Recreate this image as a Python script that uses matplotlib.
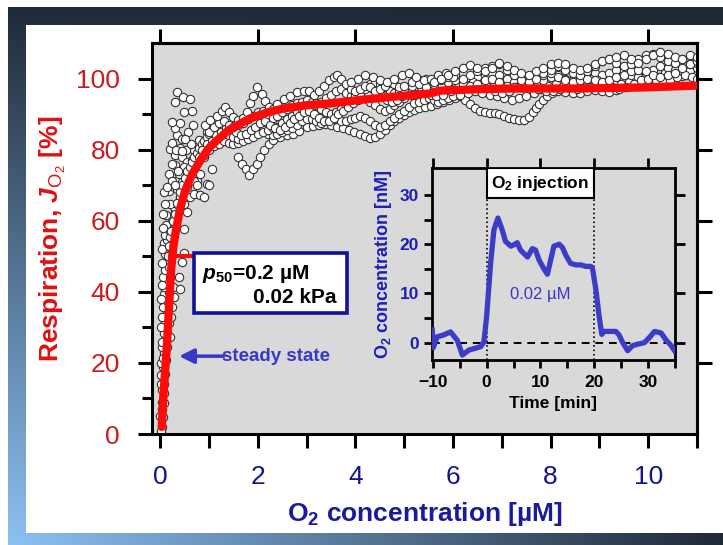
import numpy as np
import matplotlib
matplotlib.use('Agg')
import matplotlib.pyplot as plt
from matplotlib.patches import Rectangle

plt.rcParams['font.family'] = ['Liberation Sans', 'DejaVu Sans']
plt.rcParams['mathtext.fontset'] = 'custom'
plt.rcParams['mathtext.rm'] = 'Liberation Sans'
plt.rcParams['mathtext.it'] = 'Liberation Sans:italic'
plt.rcParams['mathtext.bf'] = 'Liberation Sans:bold'
plt.rcParams['mathtext.bfit'] = 'Liberation Sans:italic:bold'
plt.rcParams['mathtext.sf'] = 'Liberation Sans'

# ---------------- data ----------------
near_zero = [(0.034, 2.1), (0.055, 4.9), (0.068, 8.6), (0.082, 11.4), (0.068, 14.2), (0.102, 17.0),
             (0.055, 18.9), (0.123, 20.8), (0.082, 22.7), (0.137, 24.5), (0.102, 26.4), (0.068, 28.3),
             (0.15, 27.8), (0.205, 27.3), (0.123, 30.1), (0.17, 31.1), (0.082, 33.0), (0.219, 33.0),
             (0.137, 34.8), (0.055, 35.8), (0.239, 35.8), (0.123, 37.6), (0.273, 38.6), (0.068, 39.5),
             (0.17, 40.0), (0.082, 41.4), (0.26, 41.4), (0.41, 40.9), (0.137, 43.3), (0.055, 44.2),
             (0.205, 44.2), (0.375, 44.2), (0.102, 46.1), (0.17, 47.0), (0.444, 48.4), (0.478, 50.8),
             (0.068, 53.6), (0.137, 54.5), (0.102, 55.9), (0.205, 55.5), (0.17, 57.3), (0.123, 58.7),
             (0.239, 60.7), (0.307, 62.5), (0.273, 63.9), (0.34, 64.8), (0.205, 64.8), (0.478, 57.8),
             (0.546, 62.5), (0.478, 64.8), (0.41, 66.7), (0.615, 66.7), (0.683, 67.6), (0.82, 67.1),
             (0.888, 66.7), (0.102, 64.8), (0.17, 68.5), (0.273, 69.5), (0.41, 70.4), (0.34, 71.3),
             (0.478, 72.3), (0.615, 73.2), (0.75, 71.3), (0.956, 70.4), (0.02, 0.8), (0.04, 7.0),
             (0.03, 12.5), (0.05, 16.0), (0.045, 24.5), (0.09, 31.5), (0.04, 48.0), (0.09, 50.5),
             (0.06, 58.0), (0.11, 61.5), (0.00, 5.0), (0.02, 14.0), (0.01, 20.0), (0.03, 26.0),
             (0.04, 33.0), (0.02, 38.0), (0.03, 42.0), (0.045, 52.0), (0.06, 62.0), (0.08, 68.0),
             (0.01, 30.0), (0.025, 9.0), (0.015, 16.5), (0.05, 21.5)]
low_cluster = [(0.205, 80.2), (0.307, 78.4), (0.444, 77.9), (0.546, 76.5), (0.307, 75.6), (0.478, 75.1),
               (0.171, 73.2), (0.376, 73.2), (0.58, 73.7), (0.239, 71.3), (0.444, 70.9), (0.683, 71.3),
               (0.137, 69.5), (0.342, 69.0), (0.546, 69.5), (0.75, 70.0), (0.99, 70.0), (1.06, 74.6),
               (0.82, 73.2), (0.888, 77.9), (0.683, 79.8), (0.785, 82.6), (0.956, 84.9), (0.92, 82.6),
               (0.25, 82.0), (0.35, 84.0), (0.30, 86.0), (0.40, 80.5), (0.52, 80.0), (0.56, 85.0),
               (0.62, 81.5), (0.66, 77.0), (0.72, 75.5), (0.76, 78.5), (0.86, 80.5), (0.40, 87.5)]
along_fit = [(0.15, 50.0), (0.18, 53.0), (0.22, 57.0), (0.26, 60.0), (0.30, 62.0), (0.35, 65.0),
             (0.40, 68.0), (0.45, 70.0), (0.50, 72.0), (0.55, 74.0), (0.60, 75.0), (0.65, 76.5),
             (0.70, 78.0), (0.75, 79.0), (0.80, 80.5), (0.85, 81.5), (0.90, 82.5), (0.95, 83.5),
             (1.00, 84.5), (0.30, 70.0), (0.36, 74.0), (0.25, 76.0), (0.33, 80.0), (0.45, 79.5)]
outliers = [(0.34, 96.2), (0.31, 93.3), (0.47, 94.8), (0.61, 94.3), (0.48, 90.5), (0.65, 91.0),
            (0.24, 87.7), (0.68, 86.8), (0.44, 83.0), (0.51, 83.0)]
trace_a = [(0.92, 86.8), (1.02, 88.2), (1.16, 89.6), (1.26, 91.0), (1.33, 92.0), (1.40, 90.5), (1.50, 89.1),
           (1.60, 88.2), (1.70, 89.0), (1.78, 90.5), (1.84, 93.0), (1.90, 95.2), (1.98, 97.5), (2.08, 95.7),
           (2.15, 93.8), (2.22, 91.9), (2.30, 91.5), (2.40, 92.8), (2.53, 94.3), (2.66, 95.2), (2.80, 96.2),
           (2.94, 96.6), (3.05, 96.5), (3.15, 95.5), (3.25, 96.5), (3.35, 98.0), (3.45, 99.5), (3.55, 100.5),
           (3.62, 101.0), (3.70, 100.0), (3.80, 98.5), (3.90, 97.0), (4.00, 96.5), (4.10, 97.0), (4.20, 98.0),
           (4.30, 97.5), (4.40, 96.5), (4.50, 97.0), (4.60, 98.0), (4.70, 99.0), (4.80, 98.5), (4.90, 97.5),
           (5.00, 98.0), (5.15, 99.0), (5.30, 98.5), (5.45, 97.5), (5.60, 98.5), (5.75, 99.5), (5.90, 100.5),
           (6.05, 101.0), (6.20, 100.0), (6.35, 101.0), (6.50, 102.0), (6.65, 103.0), (6.80, 103.5),
           (6.95, 104.0), (7.10, 102.5), (7.25, 101.0), (7.40, 99.5), (7.55, 99.0), (7.70, 100.0),
           (7.85, 101.5), (8.00, 102.5), (8.15, 103.5), (8.30, 102.5), (8.45, 101.5), (8.60, 101.0),
           (8.75, 102.0), (8.90, 103.5), (9.05, 105.0), (9.20, 105.5), (9.35, 104.5), (9.50, 103.5),
           (9.65, 104.0), (9.80, 105.5), (9.95, 106.5), (10.10, 107.0), (10.25, 106.0), (10.40, 105.0),
           (10.55, 104.5), (10.70, 105.5), (10.85, 104.0), (11.00, 105.0)]
trace_b = [(0.85, 80.0), (0.95, 81.5), (1.05, 82.5), (1.15, 84.0), (1.25, 85.0), (1.35, 86.0), (1.45, 86.0),
           (1.55, 85.0), (1.65, 84.0), (1.75, 84.5), (1.85, 85.5), (1.95, 86.5), (2.05, 87.5), (2.15, 88.0),
           (2.25, 87.0), (2.35, 86.0), (2.45, 85.5), (2.55, 86.5), (2.65, 87.5), (2.75, 88.5), (2.85, 89.5),
           (2.95, 90.5), (3.05, 91.0), (3.15, 90.0), (3.25, 89.0), (3.35, 88.0), (3.45, 88.0), (3.55, 89.0),
           (3.65, 90.0), (3.75, 91.0), (3.85, 92.0), (3.95, 93.0), (4.05, 94.0), (4.15, 95.0), (4.25, 96.0),
           (4.35, 97.0), (4.45, 96.0), (4.55, 95.0), (4.65, 94.0), (4.75, 93.5), (4.85, 94.0), (4.95, 95.0),
           (5.05, 96.0), (5.15, 97.0), (5.25, 98.0), (5.35, 97.5), (5.45, 96.5), (5.55, 95.5), (5.65, 95.0),
           (5.80, 95.5), (5.95, 96.5), (6.10, 97.5), (6.25, 98.5), (6.40, 99.0), (6.55, 98.5), (6.70, 97.5),
           (6.85, 96.5), (7.00, 96.0), (7.15, 96.5), (7.30, 97.5), (7.45, 98.0), (7.60, 97.5), (7.75, 97.0),
           (7.90, 96.5), (8.05, 96.5), (8.20, 97.0), (8.35, 97.5), (8.50, 98.5), (8.65, 99.5), (8.80, 100.0),
           (8.95, 99.5), (9.10, 98.5), (9.25, 97.5), (9.40, 97.0), (9.55, 97.5), (9.70, 98.5), (9.85, 99.5),
           (10.00, 100.0), (10.15, 99.5), (10.30, 99.0), (10.45, 99.5), (10.60, 100.5), (10.75, 101.0),
           (10.90, 100.5), (11.00, 100.0)]
trace_c = [(1.60, 78.0), (1.68, 76.0), (1.75, 74.5), (1.82, 73.0), (1.90, 74.5), (1.98, 76.0), (2.05, 78.0),
           (2.12, 80.0), (2.22, 81.6), (2.32, 82.6), (2.46, 83.5), (2.60, 84.0), (2.72, 84.5), (2.85, 85.2),
           (3.00, 86.3), (3.12, 86.6), (3.25, 87.0), (3.38, 87.2), (3.50, 87.0), (3.62, 86.5), (3.74, 86.0),
           (3.86, 85.5), (3.98, 85.0), (4.10, 84.3), (4.20, 83.7), (4.30, 83.4), (4.40, 83.6), (4.50, 84.4),
           (4.60, 85.5), (4.70, 86.8), (4.80, 88.0), (4.90, 89.0), (5.00, 89.8), (5.10, 90.6), (5.20, 91.2),
           (5.30, 91.6), (5.42, 92.0), (5.55, 92.3), (5.68, 92.8), (5.80, 93.4), (5.92, 94.0), (6.04, 94.6),
           (6.15, 95.1), (6.25, 94.0), (6.35, 92.8), (6.45, 91.6), (6.55, 91.0), (6.65, 90.6), (6.75, 90.4),
           (6.85, 90.2), (6.95, 90.0), (7.05, 89.5), (7.15, 89.0), (7.25, 88.6), (7.35, 88.2), (7.45, 88.4),
           (7.55, 89.2), (7.63, 90.5), (7.70, 91.6), (7.77, 92.8), (7.85, 94.0), (7.92, 95.0), (8.02, 96.0),
           (8.15, 96.6), (8.30, 96.2), (8.45, 95.8), (8.60, 96.0), (8.75, 96.5), (8.90, 96.8), (9.05, 96.4),
           (9.20, 96.2), (9.35, 96.8), (9.50, 97.5), (9.65, 98.0), (9.80, 98.5), (9.95, 98.8), (10.10, 98.2),
           (10.25, 98.6), (10.40, 99.4), (10.55, 100.0), (10.70, 100.8), (10.85, 101.5), (11.00, 101.8)]
trace_d = [(0.80, 78.0), (0.90, 80.0), (1.00, 81.5), (1.10, 83.0), (1.20, 84.0), (1.30, 84.5), (1.40, 84.0),
           (1.50, 83.5), (1.60, 83.0), (1.70, 82.5), (1.80, 83.0), (1.90, 83.5), (2.00, 84.5), (2.10, 85.0),
           (2.20, 85.5), (2.30, 86.0), (2.40, 86.5), (2.50, 87.5), (2.60, 88.5), (2.70, 89.5), (2.80, 90.5),
           (2.90, 91.5), (3.00, 92.5), (3.10, 93.0), (3.20, 92.5), (3.30, 91.5), (3.40, 90.5), (3.50, 90.0),
           (3.60, 90.5), (3.70, 91.5), (3.80, 92.5), (3.90, 93.5), (4.00, 94.5), (4.10, 95.0), (4.20, 94.5),
           (4.30, 93.5), (4.40, 92.5), (4.50, 91.5), (4.60, 91.0), (4.70, 91.5), (4.80, 92.5), (4.90, 93.5),
           (5.00, 94.5), (5.15, 95.5), (5.30, 96.5), (5.45, 97.5), (5.60, 98.0), (5.75, 97.5), (5.90, 98.0),
           (6.05, 99.0), (6.20, 99.5), (6.35, 100.0), (6.50, 100.5), (6.65, 101.0), (6.80, 101.5),
           (6.95, 101.0), (7.10, 100.0), (7.25, 99.0), (7.40, 98.5), (7.55, 98.0), (7.70, 98.5), (7.85, 99.5),
           (8.00, 100.5), (8.15, 101.0), (8.30, 100.0), (8.45, 99.5), (8.60, 100.0), (8.75, 101.0),
           (8.90, 101.5), (9.05, 101.0), (9.20, 101.5), (9.35, 102.5), (9.50, 102.0), (9.65, 101.0),
           (9.80, 100.5), (9.95, 101.5), (10.10, 102.5), (10.25, 103.5), (10.40, 103.0), (10.55, 102.5),
           (10.70, 102.0), (10.85, 102.5), (11.00, 103.0)]
trace_e = [(5.60, 99.0), (5.75, 100.0), (5.90, 101.0), (6.05, 102.0), (6.20, 103.0), (6.35, 103.8),
           (6.50, 103.0), (6.65, 102.0), (6.80, 103.0), (6.95, 104.5), (7.10, 103.5), (7.25, 102.5),
           (7.40, 101.5), (7.55, 101.0), (7.70, 102.0), (7.85, 103.0), (8.00, 104.0), (8.15, 104.5),
           (8.30, 104.0), (8.45, 103.0), (8.60, 102.5), (8.75, 103.0), (8.90, 104.0), (9.05, 105.0),
           (9.20, 105.5), (9.35, 106.0), (9.50, 106.5), (9.65, 105.5), (9.80, 104.5), (9.95, 105.5),
           (10.10, 106.5), (10.25, 107.4), (10.40, 107.0), (10.55, 106.0), (10.70, 105.5), (10.85, 106.5),
           (11.00, 106.0)]
trace_f = [(3.90, 99.0), (4.05, 100.0), (4.20, 101.0), (4.35, 100.5), (4.50, 99.5), (4.65, 99.0),
           (4.80, 100.0), (4.95, 101.0), (5.10, 101.5), (5.25, 100.5), (5.40, 99.5), (5.55, 100.0),
           (5.70, 101.0), (5.85, 101.5), (6.00, 100.5)]
trace_g = [(1.0, 85.0), (1.1, 86.5), (1.2, 87.5), (1.3, 88.0), (1.4, 87.0), (1.5, 86.5), (1.6, 87.0),
           (1.7, 87.5), (1.8, 88.5), (1.9, 89.5), (2.0, 90.5), (2.1, 91.0), (2.2, 90.0), (2.3, 89.0),
           (2.4, 89.5), (2.5, 90.5), (2.6, 91.5), (2.7, 92.5), (2.8, 93.0), (2.9, 93.5), (3.0, 94.0),
           (3.1, 93.5), (3.2, 93.0), (3.3, 93.5), (3.4, 94.5), (3.5, 95.5), (3.6, 96.5), (3.7, 97.0),
           (3.8, 96.0), (3.9, 95.0), (4.0, 95.5), (4.1, 96.0), (4.2, 97.0), (4.3, 98.5), (4.4, 99.0),
           (4.5, 98.5), (4.6, 97.5), (4.7, 96.5), (4.8, 96.0), (4.9, 96.5), (5.0, 97.0), (5.15, 98.0),
           (5.3, 99.5), (5.45, 100.0), (5.6, 99.0), (5.75, 98.5), (5.9, 99.0), (6.05, 99.5), (6.2, 98.5),
           (6.35, 98.0), (6.5, 98.5), (6.65, 99.5), (6.8, 100.0), (6.95, 99.0), (7.1, 98.0), (7.25, 97.5),
           (7.4, 98.0), (7.55, 99.5), (7.7, 100.5), (7.85, 101.0), (8.0, 101.5), (8.15, 100.5), (8.3, 99.5),
           (8.45, 99.0), (8.6, 99.5), (8.75, 100.0), (8.9, 99.5), (9.05, 99.0), (9.2, 99.5), (9.35, 100.5),
           (9.5, 101.0), (9.65, 102.0), (9.8, 102.5), (9.95, 102.0), (10.1, 101.0), (10.25, 100.5),
           (10.4, 101.0), (10.55, 101.5), (10.7, 103.0), (10.85, 104.0), (11.0, 104.5)]
trace_h = [(0.9, 78.5), (1.0, 80.0), (1.1, 81.0), (1.2, 81.5), (1.3, 82.5), (1.4, 82.0), (1.5, 81.5),
           (1.6, 82.0), (1.7, 83.0), (1.8, 84.0), (1.9, 84.5), (2.0, 85.0), (2.1, 85.5), (2.2, 84.5),
           (2.3, 84.0), (2.4, 84.5), (2.5, 85.0), (2.6, 85.5), (2.7, 86.0), (2.8, 87.0), (2.9, 88.0),
           (3.0, 88.5), (3.1, 88.5), (3.2, 88.0), (3.3, 87.5), (3.4, 88.5), (3.5, 89.0), (3.6, 88.5),
           (3.7, 88.0), (3.8, 88.0), (3.9, 88.5), (4.0, 89.0), (4.1, 89.5), (4.2, 89.0), (4.3, 88.0),
           (4.4, 87.0), (4.5, 86.5), (4.6, 87.0), (4.7, 88.0), (4.8, 89.0), (4.9, 90.0), (5.0, 91.0),
           (5.1, 92.0), (5.2, 93.0), (5.3, 93.5), (5.4, 94.0), (5.5, 94.5), (5.6, 94.0), (5.7, 93.5),
           (5.8, 94.0), (5.9, 94.5), (6.0, 95.0), (6.15, 95.5), (6.3, 96.0), (6.45, 96.5), (6.6, 96.0),
           (6.75, 95.5), (6.9, 95.0), (7.05, 94.5), (7.2, 94.0), (7.35, 94.5), (7.5, 95.0), (7.65, 96.0),
           (7.8, 97.0), (7.95, 98.0), (8.1, 98.5), (8.25, 98.0), (8.4, 97.5), (8.55, 97.0), (8.7, 97.5),
           (8.85, 98.0), (9.0, 98.5), (9.15, 99.0), (9.3, 99.0), (9.45, 98.5), (9.6, 99.0), (9.75, 100.0),
           (9.9, 100.5), (10.05, 100.0), (10.2, 100.5), (10.35, 101.5), (10.5, 102.0), (10.65, 101.5),
           (10.8, 101.0), (10.95, 101.5)]

fit_x = [0.03, 0.06, 0.10, 0.14, 0.18, 0.22, 0.27, 0.33, 0.40, 0.51, 0.65, 0.82, 1.00, 1.16, 1.40,
         1.84, 2.20, 2.53, 3.00, 3.48, 4.10, 4.71, 5.53, 5.74, 6.50, 7.17, 8.54, 9.90, 10.96]
fit_y = [2.0, 10.0, 18.0, 26.0, 36.0, 46.0, 53.0, 58.0, 63.0, 68.5, 73.0, 77.0, 80.5, 82.6, 85.5,
         88.8, 90.5, 91.6, 92.5, 93.0, 94.0, 94.8, 95.8, 96.6, 97.0, 97.2, 97.2, 97.5, 98.0]

inset_t = [-10.1, -9.9, -9.2, -7.95, -6.7, -5.45, -4.5, -3.3, -2.36, -1.1, -0.5, 0.0, 0.74, 1.36, 2.1,
           2.9, 3.5, 4.5, 5.1, 5.7, 6.3, 6.95, 7.6, 8.5, 9.1, 9.74, 10.7, 11.3, 11.9, 12.5, 13.5, 14.1,
           14.7, 15.6, 16.6, 17.5, 18.4, 19.4, 19.7, 20.3, 20.9, 21.4, 21.8, 23.1, 24.0, 24.6, 25.3, 26.2,
           27.1, 28.0, 29.3, 30.2, 31.2, 32.4, 33.3, 34.3, 34.9]
inset_c = [2.6, -1.0, 1.2, 1.6, 2.2, 0.5, -2.5, -1.5, -1.2, -0.8, 0.2, 5.3, 16.1, 22.9, 25.3,
           22.9, 20.6, 19.6, 19.9, 20.3, 18.8, 18.1, 17.4, 19.1, 18.8, 16.8, 14.9, 13.9, 16.8, 19.6, 20.0, 19.3,
           17.8, 16.1, 15.8, 15.8, 15.5, 15.5, 14.9, 10.8, 5.4, 1.7, 2.3, 2.3, 2.3, 1.6, 0.0, -1.6,
           -0.6, -0.3, 0.0, 1.0, 2.3, 2.0, 0.6, -0.6, -1.6]

main_xticks = [0, 2, 4, 6, 8, 10]
main_yticks = [0, 20, 40, 60, 80, 100]
inset_xticks = [-10, 0, 10, 20, 30]
inset_yticks = [0, 10, 20, 30]

# ---------------- figure & frame ----------------
W, H = 723, 545
fig = plt.figure(figsize=(W / 100, H / 100), dpi=100)
fig.patch.set_facecolor('white')
bg = fig.add_axes([0, 0, 1, 1], zorder=-10)
bg.axis('off')
yy, xx = np.mgrid[0:H, 0:W]
tt = (yy / H) * (1 - xx / W)
dark = np.array([0.12, 0.16, 0.21])
light = np.array([0.56, 0.77, 0.97])
img = dark + (light - dark) * tt[..., None]
white = (xx < 8) | (yy < 7) | ((xx >= 26) & (yy >= 25) & (yy < 533))
img[white] = 1.0
bg.imshow(img, extent=[0, 1, 0, 1], aspect='auto', origin='upper', interpolation='nearest')
bg.set_xlim(0, 1); bg.set_ylim(0, 1)

# ---------------- main axes ----------------
ax = fig.add_axes([152 / W, 1 - 434 / H, (697 - 152) / W, (434 - 43) / H])
ax.set_facecolor('#d9d9d9')
for tr in [near_zero, low_cluster, along_fit, outliers, trace_c, trace_h, trace_d, trace_b,
           trace_g, trace_a, trace_f, trace_e]:
    arr = np.array(tr)
    ax.scatter(arr[:, 0], arr[:, 1], s=36, facecolor='white', edgecolor='#333333',
               linewidth=0.8, zorder=2)
ax.plot(fit_x, fit_y, color='#ff0a0a', lw=6, solid_capstyle='round', solid_joinstyle='round', zorder=3)

ax.set_xlim(-0.17, 11.0)
ax.set_ylim(0, 110)
ax.set_xticks(main_xticks)
ax.set_xticks([1, 3, 5, 7, 9, 11], minor=True)
ax.set_yticks(main_yticks)
ax.set_yticks([10, 30, 50, 70, 90], minor=True)
ax.tick_params(which='both', direction='out', width=2.2, color='black')
ax.tick_params(which='major', length=10)
ax.tick_params(axis='x', which='minor', length=10)
ax.tick_params(axis='y', which='minor', length=7)
ax.tick_params(axis='x', labelsize=19, labelcolor='#14148c', pad=12)
ax.tick_params(axis='y', labelsize=19, labelcolor='#c81e1e', pad=13)
for s in ax.spines.values():
    s.set_linewidth(2.2)

secx = ax.secondary_xaxis('top')
secx.set_xticks(main_xticks)
secx.tick_params(direction='out', length=10, width=2.2, labeltop=False)
secx.spines['top'].set_linewidth(2.2)
secy = ax.secondary_yaxis('right')
secy.set_yticks(main_yticks[1:])
secy.tick_params(direction='out', length=11, width=2.2, labelright=False)
secy.spines['right'].set_linewidth(2.2)

ax.set_xlabel(r'$\mathbf{O}_\mathbf{2}$ concentration [µM]', fontsize=19, fontweight='bold',
              color='#1a1a9c', labelpad=8)
ax.set_ylabel(r'Respiration, $\mathbfit{J}_{\mathrm{O_2}}$ [%]', fontsize=19, fontweight='bold',
              color='#e01010', labelpad=6)

# p50 marker and box
ax.plot([0.2, 0.72], [50, 50], color='#ff0a0a', lw=3, zorder=3)
ax.add_patch(Rectangle((0.70, 34.0), 3.13, 16.8, facecolor='white', edgecolor='#10109a',
                       lw=2.6, zorder=4))
ax.text(0.86, 45.0, r'$\mathbfit{p}_{\mathbf{50}}$=0.2 µM', fontsize=15, fontweight='bold',
        ha='left', va='center', zorder=5)
ax.text(3.62, 38.3, '0.02 kPa', fontsize=15, fontweight='bold', ha='right', va='center', zorder=5)

# steady state arrow
ax.annotate('', xy=(0.33, 21.9), xytext=(1.35, 21.9),
            arrowprops=dict(arrowstyle='-|>', color='#3838c8', lw=2.5, mutation_scale=22), zorder=5)
ax.text(1.26, 21.7, 'steady state', fontsize=13.5, fontweight='bold', color='#3838c8',
        ha='left', va='center', zorder=5)

# ---------------- inset ----------------
axin = fig.add_axes([431.7 / W, 1 - 360 / H, (675 - 431.7) / W, (360 - 168.3) / H])
axin.set_facecolor('#d9d9d9')
axin.set_xlim(-10.2, 35.0)
axin.set_ylim(-3.5, 35.4)
axin.plot(inset_t, inset_c, color='#3c3cc8', lw=3.8, zorder=3, solid_joinstyle='round')
axin.axhline(0, color='black', ls=(0, (4, 3)), lw=1.4, zorder=2)
axin.plot([0, 0], [-3.5, 29.3], ls=':', color='black', lw=1.2, zorder=2)
axin.plot([20, 20], [-3.5, 29.3], ls=':', color='black', lw=1.2, zorder=2)
axin.add_patch(Rectangle((0, 29.3), 20, 6.1, facecolor='white', edgecolor='black', lw=1.5, zorder=4))
axin.text(10, 32.3, r'$\mathbf{O}_\mathbf{2}$ injection', fontsize=12.5, fontweight='bold',
          ha='center', va='center', zorder=5)
axin.text(10, 9.7, '0.02 µM', fontsize=12, color='#3838c8', ha='center', va='center', zorder=5)

axin.set_xticks(inset_xticks)
axin.set_xticks([-5, 5, 15, 25, 35], minor=True)
axin.set_yticks(inset_yticks)
axin.set_yticks([5, 15, 25], minor=True)
axin.tick_params(which='both', direction='out', length=6, width=2, color='black')
axin.tick_params(axis='x', labelsize=12.5, labelcolor='black', pad=5)
axin.tick_params(axis='y', labelsize=12.5, labelcolor='#1e1eb4', pad=3)
for lab in axin.get_xticklabels() + axin.get_yticklabels():
    lab.set_fontweight('bold')
for s in axin.spines.values():
    s.set_linewidth(2)
sx2 = axin.secondary_xaxis('top')
sx2.set_xticks(inset_xticks)
sx2.tick_params(direction='out', length=7, width=2, labeltop=False)
sy2 = axin.secondary_yaxis('right')
sy2.set_yticks(inset_yticks)
sy2.tick_params(direction='out', length=7, width=2, labelright=False)
axin.set_xlabel('Time [min]', fontsize=12.5, fontweight='bold', color='black', labelpad=4)
axin.set_ylabel(r'$\mathbf{O}_\mathbf{2}$ concentration [nM]', fontsize=13, fontweight='bold',
                color='#1e1eb4', labelpad=4)

fig.savefig('out.png', dpi=100)
